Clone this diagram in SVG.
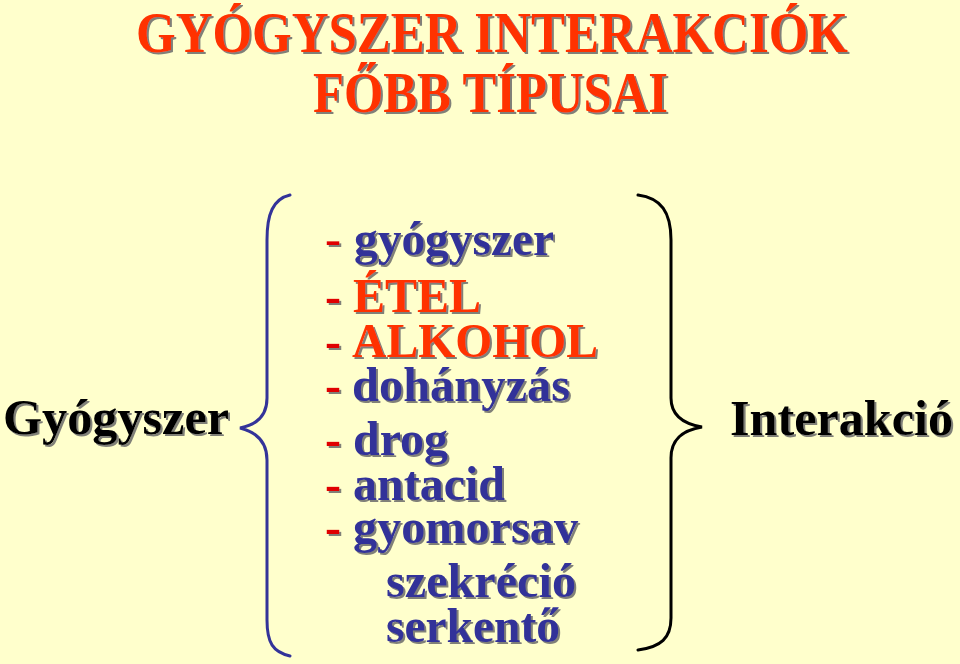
<svg xmlns="http://www.w3.org/2000/svg" width="960" height="664" viewBox="0 0 960 664">
<defs>
<filter id="sh" x="-5%" y="-10%" width="110%" height="130%">
<feDropShadow dx="2" dy="2" stdDeviation="0.6" flood-color="#6b6b6b" flood-opacity="0.85"/>
</filter>
<style>
text{font-family:"Liberation Serif","Times New Roman",serif;font-weight:bold;filter:url(#sh)}
.title{font-size:57px;fill:#FF3300}
.lbl{font-size:50px;fill:#000}
.item{font-size:48px;fill:#333399}
.red{fill:#FF3300}
.dash{font-size:48px;fill:#E00000}
.thin{font-weight:normal}
.brace{fill:none;stroke-width:3;stroke-linecap:round}
</style>
</defs>
<rect width="960" height="664" fill="#FFFFCC"/>
<g id="title">
<text class="title" x="136" y="52" textLength="712" lengthAdjust="spacingAndGlyphs">GYÓGYSZER INTERAKCIÓK</text>
<text class="title" x="313" y="112" textLength="355" lengthAdjust="spacingAndGlyphs">FŐBB TÍPUSAI</text>
</g>
<g id="connectors">
<path class="brace" stroke="#333399" d="M290,195 C273,199 267,214 267,240 L267,398 C267,416 256,425 240,428 C256,432 267,441 267,460 L267,620 C267,643 273,652 290,656"/>
<path class="brace" stroke="#000" d="M638,195 C661,198 671,212 671,240 L671,398 C671,416 684,424 702,427 C684,430 671,438 671,458 L671,618 C671,638 661,647 638,650"/>
</g>
<g id="node-gyogyszer">
<text class="lbl" x="3" y="434" textLength="226" lengthAdjust="spacingAndGlyphs">Gyógyszer</text>
</g>
<g id="node-interakcio">
<text class="lbl" x="730" y="435" textLength="223" lengthAdjust="spacingAndGlyphs">Interakció</text>
</g>
<g id="node-list">
<text class="dash thin" x="325" y="255">-</text>
<text class="item" x="354" y="255" textLength="200" lengthAdjust="spacingAndGlyphs">gyógyszer</text>
<text class="dash" x="325" y="312">-</text>
<text class="item red" x="353" y="312" textLength="128" lengthAdjust="spacingAndGlyphs">ÉTEL</text>
<text class="dash" x="325" y="357">-</text>
<text class="item red" x="352" y="357" textLength="246" lengthAdjust="spacingAndGlyphs">ALKOHOL</text>
<text class="dash" x="325" y="401">-</text>
<text class="item" x="352" y="401" textLength="218" lengthAdjust="spacingAndGlyphs">dohányzás</text>
<text class="dash" x="325" y="455">-</text>
<text class="item" x="353" y="455" textLength="95" lengthAdjust="spacingAndGlyphs">drog</text>
<text class="dash" x="325" y="500">-</text>
<text class="item" x="353" y="500" textLength="152" lengthAdjust="spacingAndGlyphs">antacid</text>
<text class="dash" x="325" y="543">-</text>
<text class="item" x="353" y="543" textLength="225" lengthAdjust="spacingAndGlyphs">gyomorsav</text>
<text class="item" x="386" y="597" textLength="190" lengthAdjust="spacingAndGlyphs">szekréció</text>
<text class="item" x="386" y="642" textLength="174" lengthAdjust="spacingAndGlyphs">serkentő</text>
</g>
</svg>
